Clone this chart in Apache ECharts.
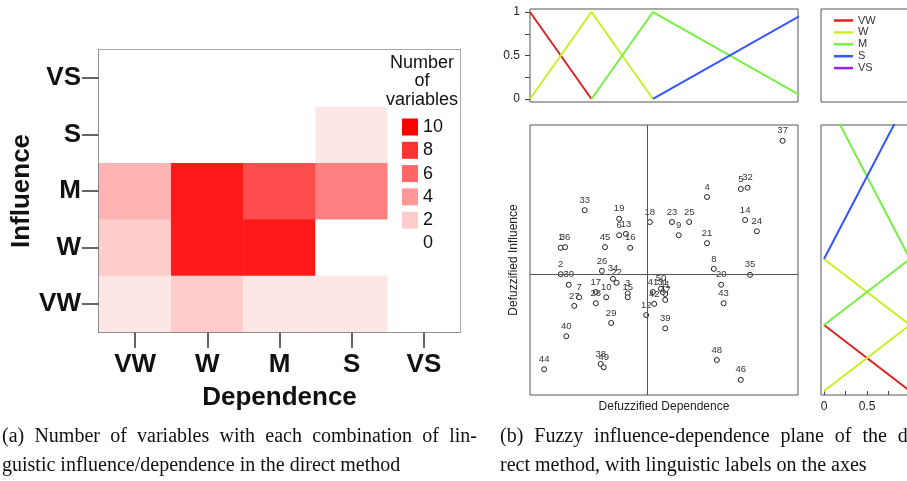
<!DOCTYPE html>
<html>
<head>
<meta charset="utf-8">
<title>Influence / dependence</title>
<script src="https://cdn.jsdelivr.net/npm/echarts@6/dist/echarts.min.js"></script>
<style>
  html, body { margin: 0; padding: 0; background: #fff; }
  #main { width: 907px; height: 481px; }
</style>
</head>
<body>
<div id="main"></div>
<script>
// linguistic levels, weakest first
var levels = ['VW', 'W', 'M', 'S', 'VS'];

// number of variables per cell: one array per influence level, indexed by dependence level
var countVW = [1, 2, 1, 1, 0];
var countW  = [2, 9, 9, 0, 0];
var countM  = [3, 9, 7, 5, 0];
var countS  = [0, 0, 0, 1, 0];
var countVS = [0, 0, 0, 0, 0];
var legendSteps = [10, 8, 6, 4, 2, 0];

// defuzzified scores of variables 1..50
var depScore  = [0.50, 0.50, 1.59, 2.88, 3.43, 1.45, 0.80, 2.99, 2.42, 1.24,
                 2.20, 1.89, 1.56, 3.50, 1.59, 1.63, 1.07, 1.95, 1.45, 3.11,
                 2.88, 1.41, 2.31, 3.69, 2.59, 1.17, 0.72, 1.07, 1.32, 0.63,
                 2.16, 3.54, 0.89, 1.35, 3.58, 0.57, 4.11, 1.15, 2.20, 0.59,
                 2.00, 2.02, 3.15, 0.23, 1.22, 3.43, 2.20, 3.04, 1.20, 2.13];
var inflScore = [2.17, 1.77, 1.48, 2.94, 3.06, 2.36, 1.42, 1.85, 2.36, 1.42,
                 1.47, 1.15, 2.38, 2.59, 1.42, 2.17, 1.50, 2.56, 2.61, 1.61,
                 2.24, 1.64, 2.56, 2.42, 2.56, 1.82, 1.29, 1.33, 1.03, 1.61,
                 1.50, 3.08, 2.74, 1.70, 1.76, 2.18, 3.79, 0.41, 0.95, 0.83,
                 1.50, 1.32, 1.33, 0.33, 2.18, 0.17, 1.38, 0.47, 0.36, 1.55];
var depMean = 1.90;
var inflMean = 1.77;

// triangular membership functions: [score, membership]
var mfVW = [[0, 1], [1, 0]];
var mfW  = [[0, 0], [1, 1], [2, 0]];
var mfM  = [[1, 0], [2, 1], [4.5, 0]];
var mfS  = [[2, 0], [4.5, 1], [7, 0]];
var mfVS = [[4.5, 0], [7, 1]];
var mfColors = ['#dd2222', '#ccee22', '#77ee44', '#3355ff', '#9922ee'];

var sans = 'Liberation Sans, Arial, sans-serif';
var serif = 'Liberation Serif, Times New Roman, serif';

function countColor(v) {
    var g = Math.round(255 * (1 - v / 10));
    return 'rgb(255,' + g + ',' + g + ')';
}

// heatmap cells [dep, infl, count]
var heatData = [];
[countVW, countW, countM, countS, countVS].forEach(function (row, i) {
    row.forEach(function (v, j) { heatData.push([j, i, v]); });
});

var scatterData = depScore.map(function (d, i) {
    return {name: String(i + 1), value: [d, inflScore[i]]};
});

var mfs = [mfVW, mfW, mfM, mfS, mfVS];
var lineSeries = [];
mfs.forEach(function (mf, k) {
    // along the dependence axis (top panel)
    lineSeries.push({
        name: levels[k], type: 'line', xAxisIndex: 1, yAxisIndex: 1,
        data: mf, showSymbol: false, silent: true,
        lineStyle: {width: 2, color: mfColors[k]}, itemStyle: {color: mfColors[k]}
    });
    // along the influence axis (right panel)
    lineSeries.push({
        name: levels[k], type: 'line', xAxisIndex: 3, yAxisIndex: 3,
        data: mf.map(function (p) { return [p[1], p[0]]; }), showSymbol: false, silent: true,
        lineStyle: {width: 2, color: mfColors[k]}, itemStyle: {color: mfColors[k]}
    });
});

// colour key of the heatmap (drawn above the cells)
var keyItems = [];
['Number', 'of', 'variables'].forEach(function (t, k) {
    keyItems.push({type: 'text', z: 100, style: {x: 422, y: 63 + k * 18.5, text: t, font: '18px ' + sans,
        fill: '#111', textAlign: 'center', textVerticalAlign: 'middle'}});
});
legendSteps.forEach(function (v, k) {
    var cy = 127 + k * 23.3;
    keyItems.push({type: 'rect', z: 100, shape: {x: 402, y: cy - 8.5, width: 16, height: 17}, style: {fill: countColor(v)}});
    keyItems.push({type: 'text', z: 100, style: {x: 423, y: cy, text: String(v), font: '18px ' + sans,
        fill: '#111', textVerticalAlign: 'middle'}});
});

// justified caption lines: words spread between x0 and x1
var measureCtx = document.createElement('canvas').getContext('2d');
var captionFont = '20px ' + serif;
measureCtx.font = captionFont;
function captionLine(text, x0, x1, y) {
    var words = text.split(' ');
    if (x1 == null) {
        return [{type: 'text', z: 100, style: {x: x0, y: y, text: text, font: captionFont, fill: '#111', textVerticalAlign: 'middle'}}];
    }
    var total = 0;
    words.forEach(function (w) { total += measureCtx.measureText(w).width; });
    var gap = (x1 - x0 - total) / (words.length - 1);
    var x = x0;
    return words.map(function (w) {
        var el = {type: 'text', z: 100, style: {x: x, y: y, text: w, font: captionFont, fill: '#111', textVerticalAlign: 'middle'}};
        x += measureCtx.measureText(w).width + gap;
        return el;
    });
}
var captions = [].concat(
    captionLine('(a) Number of variables with each combination of lin-', 2, 477, 437),
    captionLine('guistic influence/dependence in the direct method', 2, null, 466),
    captionLine('(b) Fuzzy influence-dependence plane of the di-', 500, 920, 437),
    captionLine('rect method, with linguistic labels on the axes', 500, null, 466)
);

var myChart = echarts.init(document.getElementById('main'));

var boldLabel = {fontFamily: sans, fontWeight: 'bold', fontSize: 26, color: '#111'};
var smallLabel = {fontFamily: sans, fontSize: 12, color: '#222'};

myChart.setOption({
    animation: false,
    backgroundColor: '#fff',
    grid: [
        {left: 99, top: 50, width: 361, height: 282, show: true, borderColor: '#666', borderWidth: 1.5, outerBoundsMode: 'none'},
        {left: 530, top: 9, width: 268, height: 93, show: true, borderColor: '#555', borderWidth: 1, outerBoundsMode: 'none'},
        {left: 530, top: 125, width: 268, height: 270, show: true, borderColor: '#555', borderWidth: 1, outerBoundsMode: 'none'},
        {left: 821, top: 125, width: 100, height: 270, show: true, borderColor: '#555', borderWidth: 1, outerBoundsMode: 'none'}
    ],
    xAxis: [
        {
            gridIndex: 0, type: 'category', data: levels,
            name: 'Dependence', nameLocation: 'middle', nameGap: 53, nameTextStyle: boldLabel,
            axisLine: {show: true, lineStyle: {color: '#666', width: 1.5}},
            axisTick: {show: true, alignWithLabel: true, length: 16, lineStyle: {color: '#333', width: 1.5}},
            axisLabel: Object.assign({margin: 20}, boldLabel)
        },
        {gridIndex: 1, type: 'value', min: 0, max: 4.36, show: false},
        {
            gridIndex: 2, type: 'value', min: 0, max: 4.36,
            name: 'Defuzzified Dependence', nameLocation: 'middle', nameGap: 6, nameTextStyle: smallLabel,
            axisLine: {show: false}, axisTick: {show: false}, axisLabel: {show: false}, splitLine: {show: false}
        },
        {
            gridIndex: 3, type: 'value', min: -0.035, max: 1.128,
            axisLine: {show: false}, splitLine: {show: false},
            axisTick: {show: true, customValues: [0, 0.25, 0.5, 0.75, 1], length: 4, lineStyle: {color: '#444'}},
            axisLabel: Object.assign({customValues: [0, 0.5, 1], margin: 6}, smallLabel)
        }
    ],
    yAxis: [
        {
            gridIndex: 0, type: 'category', data: levels,
            name: 'Influence', nameLocation: 'middle', nameGap: 60, nameTextStyle: boldLabel,
            axisLine: {show: true, lineStyle: {color: '#666', width: 1.5}},
            axisTick: {show: true, alignWithLabel: true, length: 17, lineStyle: {color: '#333', width: 1.5}},
            axisLabel: Object.assign({margin: 18}, boldLabel)
        },
        {
            gridIndex: 1, type: 'value', min: -0.035, max: 1.035,
            axisLine: {show: false}, splitLine: {show: false},
            axisTick: {show: true, customValues: [0, 0.25, 0.5, 0.75, 1], length: 5, lineStyle: {color: '#444'}},
            axisLabel: Object.assign({customValues: [0, 0.5, 1], margin: 10}, smallLabel)
        },
        {
            gridIndex: 2, type: 'value', min: -0.06, max: 4.03,
            name: 'Defuzzified Influence', nameLocation: 'middle', nameGap: 10, nameTextStyle: smallLabel,
            axisLine: {show: false}, axisTick: {show: false}, axisLabel: {show: false}, splitLine: {show: false}
        },
        {gridIndex: 3, type: 'value', min: -0.06, max: 4.03, show: false}
    ],
    visualMap: {
        show: false, seriesIndex: 0, min: 0, max: 10,
        inRange: {color: ['#ffffff', '#ff0000']}
    },
    legend: {
        data: levels, orient: 'vertical', left: 829, top: 10,
        icon: 'rect', itemWidth: 19, itemHeight: 2.5, itemGap: 0.9,
        selectedMode: false,
        textStyle: {fontFamily: sans, fontSize: 11, lineHeight: 11, color: '#333'}
    },
    series: [
        {type: 'heatmap', xAxisIndex: 0, yAxisIndex: 0, data: heatData, silent: true}
    ].concat(lineSeries).concat([
        {
            type: 'scatter', xAxisIndex: 2, yAxisIndex: 2, data: scatterData,
            symbol: 'circle', symbolSize: 5, silent: true,
            itemStyle: {color: '#fff', borderColor: '#222', borderWidth: 1, opacity: 1},
            label: {show: true, formatter: '{b}', position: 'top', distance: 2,
                    fontFamily: sans, fontSize: 9.5, color: '#333'},
            markLine: {
                silent: true, symbol: 'none', label: {show: false},
                lineStyle: {color: '#555', width: 1, type: 'solid'},
                data: [{xAxis: depMean}, {yAxis: inflMean}]
            }
        }
    ]),
    graphic: keyItems.concat(captions).concat([
        {type: 'rect', shape: {x: 821, y: 9, width: 100, height: 93}, style: {fill: 'none', stroke: '#555', lineWidth: 1}}
    ])
});
</script>
</body>
</html>
